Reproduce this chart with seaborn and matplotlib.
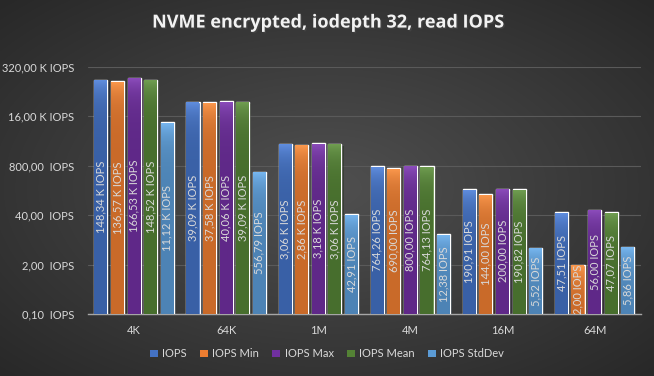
import matplotlib
matplotlib.use("Agg")
import matplotlib.pyplot as plt
import matplotlib.patheffects as pe
from matplotlib.colors import to_rgb
import numpy as np
import pandas as pd
import seaborn as sns

sizes = ["4K", "64K", "1M", "4M", "16M", "64M"]
series = ["IOPS", "IOPS Min", "IOPS Max", "IOPS Mean", "IOPS StdDev"]
iops = [148340, 39090, 3060, 764.26, 190.91, 47.51]
iops_min = [136570, 37580, 2860, 690.00, 144.00, 2.00]
iops_max = [166530, 40060, 3180, 800.00, 200.00, 56.00]
iops_mean = [148520, 39090, 3060, 764.13, 190.82, 47.07]
iops_std = [11120, 556.79, 42.91, 12.38, 5.52, 5.86]
y_ticks = [0.1, 2, 40, 800, 16000, 320000]

colors = ["#4472c4", "#ed7d31", "#7030a0", "#548235", "#5b9bd5"]

df = pd.DataFrame({"size": sizes, "IOPS": iops, "IOPS Min": iops_min,
                   "IOPS Max": iops_max, "IOPS Mean": iops_mean,
                   "IOPS StdDev": iops_std})
df = df.melt(id_vars="size", var_name="series", value_name="value")


def fmt(v):
    if v >= 1000:
        return f"{v / 1000:.2f} K IOPS".replace(".", ",")
    return f"{v:.2f} IOPS".replace(".", ",")


def tick_fmt(v):
    if v >= 1000:
        return f"{v / 1000:.2f} K IOPS".replace(".", ",")
    return f"{v:.2f}  IOPS".replace(".", ",")


sns.set_style("dark")
plt.rcParams["font.family"] = ["Lato", "DejaVu Sans"]
txt = "#d9d9d9"

fig = plt.figure(figsize=(6.54, 3.76), dpi=100)

# radial background
bg = fig.add_axes([0, 0, 1, 1], zorder=-10)
yy, xx = np.mgrid[-1:1:376j, -1:1:654j]
r = np.clip(np.sqrt(xx ** 2 + yy ** 2) / 1.414, 0, 1)
inner, outer = np.array(to_rgb("#505050")), np.array(to_rgb("#282828"))
img = inner[None, None, :] * (1 - r[..., None]) + outer[None, None, :] * r[..., None]
bg.imshow(img, aspect="auto", extent=[0, 1, 0, 1])
bg.axis("off")

ax = fig.add_axes([0.1346, 0.165, 0.845, 0.657])
ax.set_facecolor("none")
sns.barplot(data=df, x="size", y="value", hue="series", hue_order=series,
            palette=colors, width=0.9, gap=0.21, saturation=1, ax=ax,
            legend=True, zorder=3)
ax.set_yscale("log")
ax.set_yticks(y_ticks)
ax.set_yticklabels([tick_fmt(v) for v in y_ticks])
ax.minorticks_off()
ax.grid(axis="y", color="#5a5a5a", linewidth=0.8, zorder=0)
ax.grid(axis="x", visible=False)
for s in ["top", "right", "left"]:
    ax.spines[s].set_visible(False)
ax.spines["bottom"].set_color("#a6a6a6")
ax.spines["bottom"].set_linewidth(1)
ax.tick_params(axis="both", colors=txt, labelsize=8, length=0, pad=10)
ax.tick_params(axis="x", pad=8)
ax.set_xlabel("")
ax.set_ylabel("")

# gradient shading and labels on bars
for container, col in zip(ax.containers, colors):
    base = np.array(to_rgb(col))
    light = np.clip(base + 0.12, 0, 1)
    dark = np.clip(base * 0.85, 0, 1)
    for bar, v in zip(container, container.datavalues):
        x0 = bar.get_x()
        w = bar.get_width()
        bar.set_path_effects([pe.SimplePatchShadow(offset=(1.5, -1.5), alpha=0.4),
                              pe.Normal()])
        grad = np.linspace(0, 1, 64)[:, None, None]
        gimg = light[None, None, :] * (1 - grad) + dark[None, None, :] * grad
        im = ax.imshow(gimg, extent=[x0, x0 + w, 0.1, v], aspect="auto",
                       zorder=4, origin="upper", interpolation="bilinear")
        im.set_clip_path(bar)
        ax.text(x0 + w / 2, np.sqrt(0.1 * v), fmt(v), rotation=90,
                ha="center", va="center", color=txt, fontsize=8, zorder=5)
ax.set_xlim(-0.5, 5.5)
ax.set_ylim(0.1, 320000)

handles, labels = ax.get_legend_handles_labels()
leg = ax.legend(handles, labels, loc="center", bbox_to_anchor=(0.5, 0.059),
                bbox_transform=fig.transFigure, ncol=5, frameon=False,
                fontsize=8, handlelength=0.7, handleheight=0.7,
                handletextpad=0.4, columnspacing=1.2)
for t in leg.get_texts():
    t.set_color(txt)
for h in leg.legend_handles:
    h.set_edgecolor("none")

fig.text(0.5, 0.94, "NVME encrypted, iodepth 32, read IOPS", ha="center",
         va="center", fontsize=13, fontweight="bold", color="#f2f2f2",
         family=["Open Sans", "DejaVu Sans"],
         path_effects=[pe.withSimplePatchShadow(offset=(1, -1), alpha=0.6)])

fig.savefig("out.png", dpi=100)
